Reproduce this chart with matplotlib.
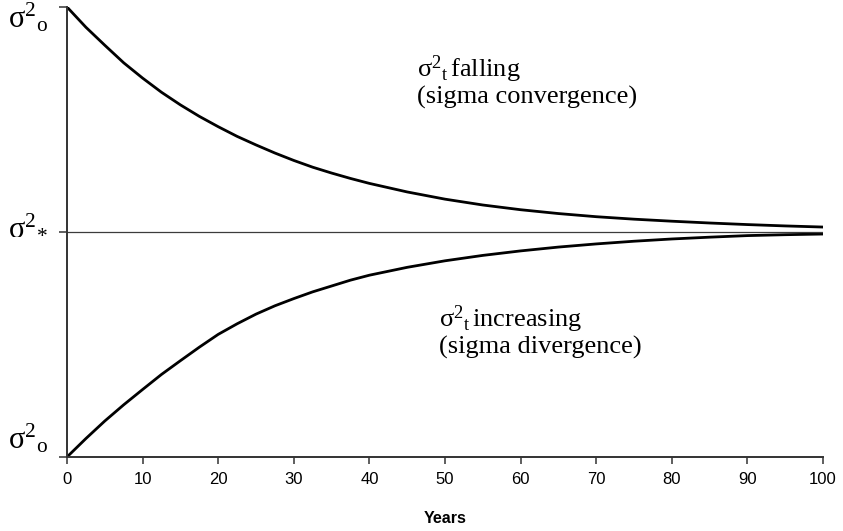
import matplotlib
matplotlib.use('Agg')
import matplotlib.pyplot as plt
from matplotlib.transforms import blended_transform_factory

plt.rcParams['mathtext.fontset'] = 'custom'
plt.rcParams['mathtext.rm'] = 'Liberation Serif'
plt.rcParams['mathtext.it'] = 'Liberation Serif:italic'

# years and the two paths (top = sigma^2_0 high, 0 = steady state sigma^2_*, bottom = sigma^2_0 low)
years = [0, 2.5, 5, 7.5, 10, 12.5, 15, 17.5, 20, 22.5, 25, 27.5, 30, 32.5, 35, 37.5, 40,
         45, 50, 55, 60, 65, 70, 75, 80, 85, 90, 95, 100]
falling = [1.0, 0.91, 0.83, 0.752, 0.684, 0.621, 0.565, 0.514, 0.468, 0.425, 0.387,
           0.351, 0.318, 0.288, 0.262, 0.238, 0.216,
           0.178, 0.146, 0.12, 0.099, 0.082, 0.068, 0.057, 0.048, 0.04, 0.033, 0.027, 0.022]
rising = [-1.0, -0.918, -0.84, -0.768, -0.70, -0.633, -0.572, -0.512, -0.455, -0.408, -0.365,
          -0.328, -0.296, -0.266, -0.24, -0.214, -0.192,
          -0.157, -0.128, -0.104, -0.084, -0.067, -0.053, -0.041, -0.031, -0.023, -0.016, -0.012, -0.009]
xticks = list(range(0, 101, 10))
steady = 0.0

fig = plt.figure(figsize=(8.43, 5.31), dpi=100)
ax = fig.add_axes([67 / 843, 1 - 457 / 531, 756 / 843, 450 / 531])

ax.plot(years, falling, color='black', lw=2.0, solid_joinstyle='round')
ax.plot(years, rising, color='black', lw=2.0, solid_joinstyle='round')
ax.axhline(steady, color='#3c3c3c', lw=0.9)

ax.set_xlim(0, 100)
ax.set_ylim(-1, 1)
for s in ['top', 'right']:
    ax.spines[s].set_visible(False)
for s in ['left', 'bottom']:
    ax.spines[s].set_color('#333333')
    ax.spines[s].set_linewidth(1.4)

ax.set_xticks(xticks)
ax.set_xticklabels([str(t) for t in xticks],
                   fontfamily=['Liberation Sans Narrow', 'Liberation Sans'], fontsize=12)
ax.tick_params(axis='x', direction='out', length=5, width=1.1, color='#333333', pad=6)
ax.set_yticks([-1, 0, 1])
ax.set_yticklabels([])
ax.tick_params(axis='y', direction='out', length=6, width=1.1, color='#333333')

ax.set_xlabel('Years', fontfamily=['Liberation Sans Narrow', 'Liberation Sans'],
              fontweight='bold', fontsize=11.5, labelpad=17)

tr = blended_transform_factory(ax.transAxes, ax.transData)
serif = ['Liberation Serif', 'DejaVu Serif']
ax.text(-0.078, 0.911, r'$\mathrm{σ}^{2}{}_{\mathrm{o}}$', transform=tr,
        fontsize=22, va='baseline', ha='left', family=serif)
ax.text(-0.078, -0.009, r'$\mathrm{σ}^{2}{}_{*}$', transform=tr,
        fontsize=22, va='baseline', ha='left', family=serif)
ax.text(-0.078, -0.964, r'$\mathrm{σ}^{2}{}_{\mathrm{o}}$', transform=tr,
        fontsize=22, va='baseline', ha='left', family=serif)

ax.text(46.3, 0.689, r'$\mathrm{σ}^{2}{}_{\mathrm{t}}\,$falling', fontsize=19,
        va='baseline', ha='left', family=serif)
ax.text(46.3, 0.569, '(sigma convergence)', fontsize=19,
        va='baseline', ha='left', family=serif)
ax.text(49.2, -0.422, r'$\mathrm{σ}^{2}{}_{\mathrm{t}}\,$increasing', fontsize=19,
        va='baseline', ha='left', family=serif)
ax.text(49.2, -0.542, '(sigma divergence)', fontsize=19,
        va='baseline', ha='left', family=serif)

fig.savefig('out.png', dpi=100, facecolor='white')
